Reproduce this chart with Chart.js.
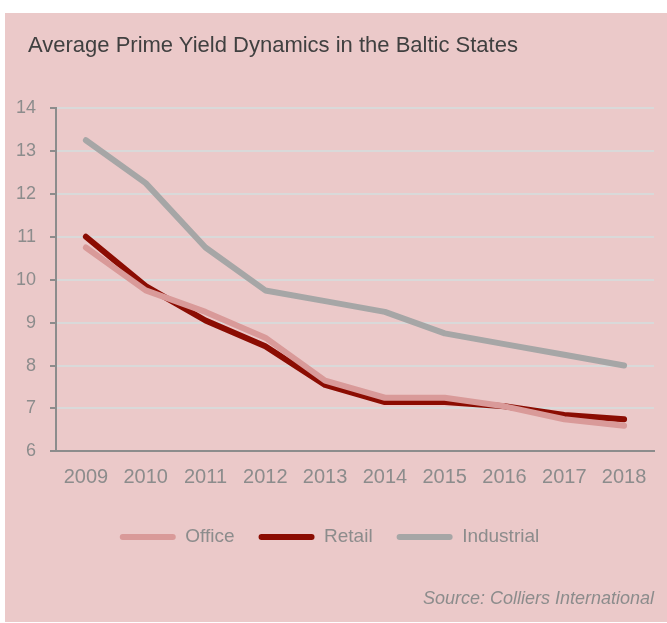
<!DOCTYPE html>
<html>
<head>
<meta charset="utf-8">
<script src="https://cdn.jsdelivr.net/npm/chart.js@4.4.0/dist/chart.umd.min.js"></script>
<style>
  html, body { margin: 0; padding: 0; background: #fff; }
  #box { position: absolute; left: 5px; top: 13px; width: 662px; height: 609px; background: #ebc9c9; }
  #box canvas { display: block; }
  #title { position: absolute; left: 23px; top: 19px; font: 22px 'Liberation Sans', Arial, sans-serif; color: #404040; white-space: nowrap; }
</style>
</head>
<body>
<div id="box">
  <canvas id="lineChart" width="662" height="609"></canvas>
  <div id="title">Average Prime Yield Dynamics in the Baltic States</div>
</div>
<script>
// data
var years = ['2009', '2010', '2011', '2012', '2013', '2014', '2015', '2016', '2017', '2018'];
var office = [10.75, 9.75, 9.25, 8.65, 7.65, 7.25, 7.25, 7.05, 6.75, 6.6];
var retail = [11, 9.85, 9.05, 8.45, 7.55, 7.15, 7.15, 7.05, 6.85, 6.75];
var industrial = [13.25, 12.25, 10.75, 9.75, 9.5, 9.25, 8.75, 8.5, 8.25, 8];
var yTicks = [6, 7, 8, 9, 10, 11, 12, 13, 14];

var grey = '#8c8c8c';
var font = 'Liberation Sans, Arial, sans-serif';

function line(label, data, color) {
  return {
    label: label,
    data: data,
    borderColor: color,
    backgroundColor: color,
    borderWidth: 6,
    borderCapStyle: 'round',
    borderJoinStyle: 'round',
    pointRadius: 0,
    tension: 0
  };
}

var ctx = document.getElementById('lineChart');
var chart = new Chart(ctx, {
  type: 'line',
  data: {
    labels: years,
    datasets: [
      line('Office', office, '#d99a99'),
      line('Retail', retail, '#8b0c02'),
      line('Industrial', industrial, '#a6a6a6')
    ]
  },
  options: {
    responsive: false,
    animation: false,
    layout: { padding: { top: 95, right: 13, bottom: 12, left: 0 } },
    plugins: {
      subtitle: {
        display: true,
        position: 'bottom',
        text: 'Source: Colliers International',
        align: 'end',
        color: grey,
        font: { family: font, size: 18, style: 'italic' },
        padding: { top: 32, bottom: 0 }
      },
      legend: {
        position: 'bottom',
        labels: {
          color: grey,
          font: { family: font, size: 19 },
          boxWidth: 56,
          boxHeight: 6,
          padding: 24,
          generateLabels: function (c) {
            return c.data.datasets.map(function (ds, i) {
              return {
                text: ds.label,
                fillStyle: ds.borderColor,
                strokeStyle: ds.borderColor,
                lineWidth: 0,
                borderRadius: 3,
                fontColor: grey,
                datasetIndex: i
              };
            });
          }
        }
      },
      tooltip: { enabled: false }
    },
    scales: {
      x: {
        offset: true,
        grid: { display: false, drawTicks: false },
        border: { display: true, color: '#8c8c8c', width: 2 },
        ticks: { color: grey, font: { family: font, size: 20 }, padding: 14, maxRotation: 0, autoSkip: false }
      },
      y: {
        min: 6,
        max: 14,
        afterBuildTicks: function (s) { s.ticks = yTicks.map(function (v) { return { value: v }; }); },
        grid: { color: '#d9d9d9', lineWidth: 2, tickColor: '#8c8c8c', tickLength: 6 },
        border: { display: true, color: '#8c8c8c', width: 2 },
        ticks: { color: grey, font: { family: font, size: 18 }, padding: 14 },
        afterFit: function (s) { s.width = 51; }
      }
    }
  }
});
</script>
</body>
</html>
